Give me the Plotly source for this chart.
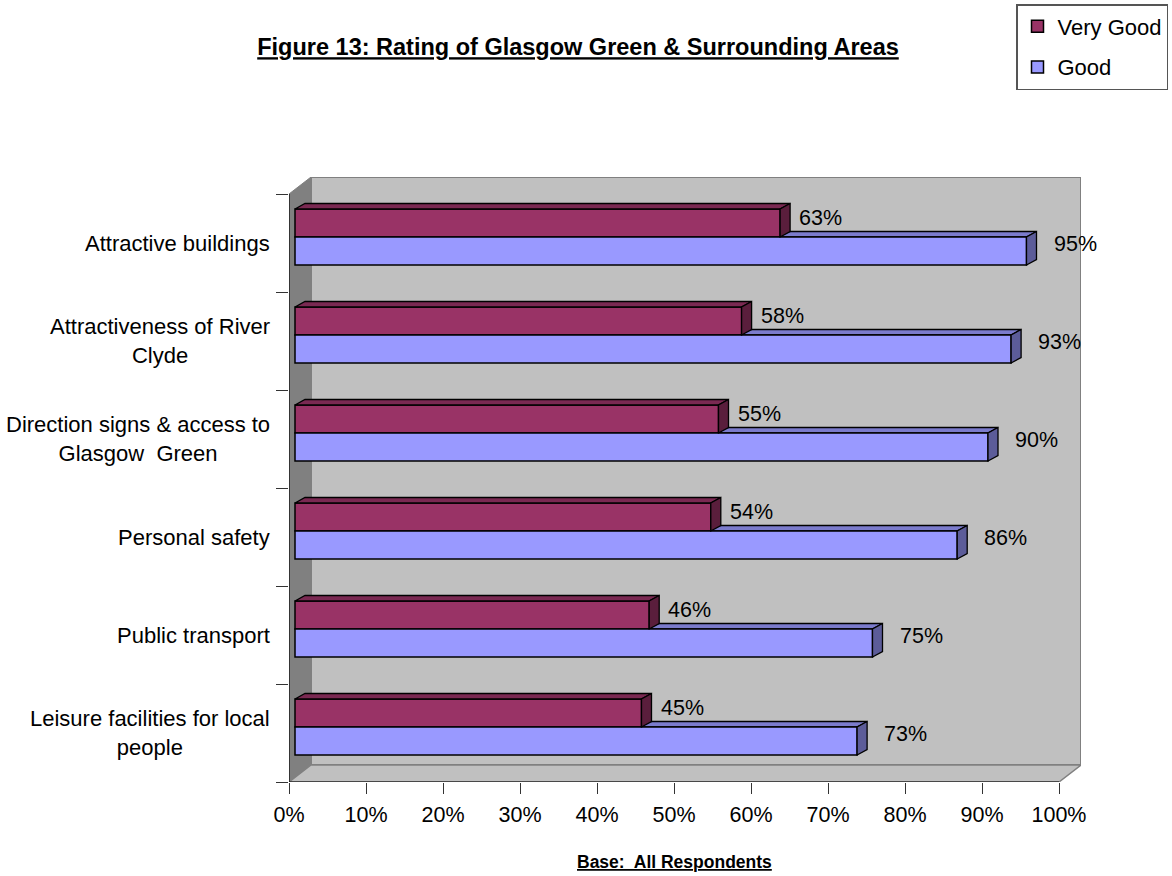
import plotly.graph_objects as go

# ---- data (top to bottom) ----
categories = [
    "Attractive buildings",
    "Attractiveness of River<br>Clyde",
    "Direction signs & access to<br>Glasgow  Green",
    "Personal safety",
    "Public transport",
    "Leisure facilities for local<br>people",
]
very_good = [63, 58, 55, 54, 46, 45]
good = [95, 93, 90, 86, 75, 73]
x_ticks = list(range(0, 101, 10))

# ---- geometry of the pseudo-3D box (pixel sizes converted to axis units) ----
W, H = 1172, 876
L, R, T, B = 289, 91, 177, 94
PX_X = 7.7          # pixels per percentage point
PX_Y = 98.0         # pixels per category band
X_MAX = (W - L - R) / PX_X
Y_MAX = (H - T - B) / PX_Y

WALL_DX, WALL_DY = 22 / PX_X, 17 / PX_Y       # depth of the chart box
BAR_SHIFT_X, BAR_SHIFT_Y = 6 / PX_X, 6 / PX_Y  # bars sit slightly inside the box
BAR_W = 28 / PX_Y                             # bar thickness
BAR_DX, BAR_DY = 10 / PX_X, 5.5 / PX_Y         # bar depth

VG_COL, VG_TOP, VG_SIDE = "#993366", "#7A2952", "#5A1E3C"
G_COL, G_TOP, G_SIDE = "#9999FF", "#7B7BCC", "#5C5C99"
FONT = "Arial, Liberation Sans, sans-serif"
FS = 21.5

n = len(categories)
centers = [n - 0.5 - k for k in range(n)]
bar_mid = [c + BAR_SHIFT_Y for c in centers]

fig = go.Figure()

fig.add_trace(go.Bar(
    orientation="h", name="Very Good", legendgroup="vg",
    x=very_good, y=bar_mid, base=BAR_SHIFT_X, width=BAR_W, offset=0,
    marker=dict(color=VG_COL, line=dict(color="black", width=1.5)),
))
fig.add_trace(go.Bar(
    orientation="h", name="Good", legendgroup="g",
    x=good, y=bar_mid, base=BAR_SHIFT_X, width=BAR_W, offset=-BAR_W,
    marker=dict(color=G_COL, line=dict(color="black", width=1.5)),
))


def poly(pts):
    return "M " + " L ".join(f"{x},{y}" for x, y in pts) + " Z"


shapes = []
# back wall
shapes.append(dict(type="path", layer="below",
                   path=poly([(WALL_DX, WALL_DY), (100 + WALL_DX, WALL_DY),
                              (100 + WALL_DX, n + WALL_DY), (WALL_DX, n + WALL_DY)]),
                   fillcolor="#C0C0C0", line=dict(color="#808080", width=2)))
# side wall
shapes.append(dict(type="path", layer="below",
                   path=poly([(0, 0), (WALL_DX, WALL_DY), (WALL_DX, n + WALL_DY), (0, n)]),
                   fillcolor="#808080", line=dict(color="#808080", width=1)))
# floor
shapes.append(dict(type="path", layer="below",
                   path=poly([(0, 0), (WALL_DX, WALL_DY), (100 + WALL_DX, WALL_DY), (100, 0)]),
                   fillcolor="#C0C0C0", line=dict(color="#808080", width=1.5)))
# front edges of the box (axis lines)
shapes.append(dict(type="line", layer="below", x0=0, x1=0, y0=0, y1=n,
                   line=dict(color="black", width=1.2)))
shapes.append(dict(type="line", layer="below", x0=0, x1=100, y0=0, y1=0,
                   line=dict(color="black", width=1.2)))

edge = dict(color="black", width=1.3)
# top faces of the lower bars sit behind the upper bars
for v, m in zip(good, bar_mid):
    x0, x1 = BAR_SHIFT_X, BAR_SHIFT_X + v
    yt = m
    shapes.append(dict(type="path", layer="below",
                       path=poly([(x0, yt), (x1, yt), (x1 + BAR_DX, yt + BAR_DY), (x0 + BAR_DX, yt + BAR_DY)]),
                       fillcolor=G_TOP, line=edge))
# side faces of the lower bars
for v, m in zip(good, bar_mid):
    x1 = BAR_SHIFT_X + v
    yb, yt = m - BAR_W, m
    shapes.append(dict(type="path", layer="above",
                       path=poly([(x1, yb), (x1, yt), (x1 + BAR_DX, yt + BAR_DY), (x1 + BAR_DX, yb + BAR_DY)]),
                       fillcolor=G_SIDE, line=edge))
# top and side faces of the upper bars
for v, m in zip(very_good, bar_mid):
    x0, x1 = BAR_SHIFT_X, BAR_SHIFT_X + v
    yb, yt = m, m + BAR_W
    shapes.append(dict(type="path", layer="above",
                       path=poly([(x0, yt), (x1, yt), (x1 + BAR_DX, yt + BAR_DY), (x0 + BAR_DX, yt + BAR_DY)]),
                       fillcolor=VG_TOP, line=edge))
    shapes.append(dict(type="path", layer="above",
                       path=poly([(x1, yb), (x1, yt), (x1 + BAR_DX, yt + BAR_DY), (x1 + BAR_DX, yb + BAR_DY)]),
                       fillcolor=VG_SIDE, line=edge))

annotations = []
# category labels, centred multi-line text right-aligned to the axis
for cat, c in zip(categories, centers):
    annotations.append(dict(x=0, y=c, xref="x", yref="y", text=cat, showarrow=False,
                            xanchor="right", yanchor="middle", align="center", xshift=-17,
                            font=dict(family=FONT, size=FS + 0.5, color="black")))
# value labels
for v, m in zip(very_good, bar_mid):
    annotations.append(dict(x=BAR_SHIFT_X + v + BAR_DX, y=m + BAR_W / 2, xref="x", yref="y",
                            text=f"{v}%", showarrow=False, xanchor="left", yanchor="middle",
                            xshift=7, yshift=5.5, font=dict(family=FONT, size=FS, color="black")))
for v, m in zip(good, bar_mid):
    annotations.append(dict(x=BAR_SHIFT_X + v + BAR_DX, y=m - BAR_W / 2, xref="x", yref="y",
                            text=f"{v}%", showarrow=False, xanchor="left", yanchor="middle",
                            xshift=15, yshift=7.5, font=dict(family=FONT, size=FS, color="black")))
# axis caption
annotations.append(dict(x=50, y=-80 / (H - T - B), xref="x", yref="paper",
                        text="<b><u>Base:  All Respondents</u></b>", showarrow=False,
                        xanchor="center", yanchor="middle",
                        font=dict(family=FONT, size=17.5, color="black")))

fig.update_layout(
    width=W, height=H,
    margin=dict(l=L, r=R, t=T, b=B, autoexpand=False),
    paper_bgcolor="white", plot_bgcolor="white",
    barmode="overlay",
    title=dict(text="<b><u>Figure 13: Rating of Glasgow Green & Surrounding Areas</u></b>",
               x=578 / W, y=1 - 47 / H, xanchor="center", yanchor="middle",
               font=dict(family=FONT, size=23.5, color="black")),
    xaxis=dict(range=[0, X_MAX], tickmode="array", tickvals=x_ticks,
               ticktext=[f"{v}%" for v in x_ticks], ticks="outside", ticklen=11,
               tickcolor="#333333", tickwidth=1.2, showgrid=False, zeroline=False,
               showline=False, tickfont=dict(family=FONT, size=FS, color="black"),
               ticklabelstandoff=2, fixedrange=True),
    yaxis=dict(range=[0, Y_MAX], tickmode="array", tickvals=list(range(n + 1)),
               ticktext=[""] * (n + 1), ticks="outside", ticklen=12,
               tickcolor="#333333", tickwidth=1.2, showgrid=False, zeroline=False,
               showline=False, fixedrange=True),
    legend=dict(x=(1168 - L) / (W - L - R), y=(H - B - 4) / (H - T - B),
                xanchor="right", yanchor="top", traceorder="grouped", tracegroupgap=9,
                bgcolor="white", bordercolor="#555555", borderwidth=1.5,
                font=dict(family=FONT, size=22, color="black")),
    shapes=shapes, annotations=annotations,
)

fig.write_html("out.html")
